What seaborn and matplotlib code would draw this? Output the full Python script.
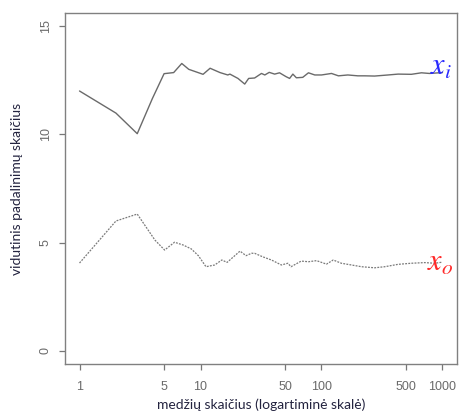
import matplotlib
matplotlib.use("Agg")
import matplotlib.pyplot as plt
import seaborn as sns
import pandas as pd
from matplotlib.ticker import FixedLocator, FixedFormatter, NullLocator

# x_i (solid) series: tree count -> mean number of splits
trees_i = [1, 2, 3, 4, 5, 6, 7, 8, 10.5, 12, 14.5, 16.8, 17.5, 20.4, 23.2, 25, 28,
           31.9, 34, 37, 41, 45, 51, 54.5, 58, 62, 70, 78, 88, 100, 121, 138, 165,
           200, 228, 275, 355, 430, 553, 670, 780, 1000]
vals_i = [12.0, 10.98, 10.03, 11.65, 12.8, 12.85, 13.27, 13.0, 12.77, 13.05, 12.85,
          12.74, 12.78, 12.58, 12.32, 12.58, 12.6, 12.81, 12.74, 12.86, 12.78, 12.84,
          12.66, 12.58, 12.78, 12.61, 12.63, 12.84, 12.74, 12.74, 12.81, 12.7, 12.74,
          12.7, 12.7, 12.69, 12.74, 12.78, 12.77, 12.84, 12.81, 12.85]

# x_o (dotted) series
trees_o = [1, 2, 3, 4.2, 5.05, 6.1, 7.2, 8.4, 9.6, 11.1, 13.1, 15, 16.6, 21.2, 23.8,
           26.4, 28, 32.6, 38.6, 46.6, 52.7, 56, 68, 78, 91, 110, 125, 146, 177, 214,
           275, 333, 430, 553, 715, 860, 1000]
vals_o = [4.06, 6.0, 6.32, 5.12, 4.66, 5.02, 4.89, 4.71, 4.4, 3.89, 3.97, 4.2, 4.09,
          4.61, 4.4, 4.51, 4.51, 4.35, 4.2, 3.97, 4.05, 3.89, 4.15, 4.12, 4.17, 4.01,
          4.2, 4.05, 3.97, 3.89, 3.84, 3.89, 4.0, 4.05, 4.08, 4.05, 4.1]

x_ticks = [1, 5, 10, 50, 100, 500, 1000]
x_ticklabels = ["1", "5", "10", "50", "100", "500", "1000"]
y_ticks = [0, 5, 10, 15]
y_ticklabels = ["0", "5", "10", "15"]

xlabel = "medžių skaičius (logartiminė skalė)"
ylabel = "vidutinis padalinimų skaičius"

sns.set_theme(style="white")
plt.rcParams["font.family"] = ["Liberation Sans", "DejaVu Sans"]
plt.rcParams["mathtext.fontset"] = "stix"

fig = plt.figure(figsize=(4.6, 4.16), dpi=100)
ax = fig.add_axes([65/460, 1-364/416, (457-65)/460, (364-13)/416])

df_i = pd.DataFrame({"n": trees_i, "v": vals_i})
df_o = pd.DataFrame({"n": trees_o, "v": vals_o})

sns.lineplot(data=df_i, x="n", y="v", ax=ax, color="#6a6a6a", linewidth=1.0,
             estimator=None, sort=True)
sns.lineplot(data=df_o, x="n", y="v", ax=ax, color="#7a7a7a", linewidth=0.9,
             estimator=None, sort=True, linestyle=(0, (1.5, 1.0)))

ax.set_xscale("log")
ax.set_xlim(10**-0.12, 10**3.12)
ax.set_ylim(-0.6, 15.6)

ax.xaxis.set_major_locator(FixedLocator(x_ticks))
ax.xaxis.set_major_formatter(FixedFormatter(x_ticklabels))
ax.xaxis.set_minor_locator(NullLocator())
ax.yaxis.set_major_locator(FixedLocator(y_ticks))
ax.yaxis.set_major_formatter(FixedFormatter(y_ticklabels))

ax.tick_params(axis="both", which="major", length=4.5, width=0.9, color="#777777",
               labelcolor="#6a6a6a", labelsize=9, direction="out", bottom=True, left=True)
ax.tick_params(axis="x", pad=8)
ax.tick_params(axis="y", pad=5)
for lab in ax.get_yticklabels():
    lab.set_rotation(90)
    lab.set_va("center")

for sp in ax.spines.values():
    sp.set_color("#808080")
    sp.set_linewidth(1.0)
    sp.set_visible(True)

ax.set_xlabel(xlabel, fontsize=10, color="#23233f", family=["Lato", "DejaVu Sans"],
              labelpad=4)
ax.set_ylabel(ylabel, fontsize=10, color="#23233f", family=["Lato", "DejaVu Sans"],
              labelpad=12)
ax.grid(False)

ax.text((430-65)/392, (364-75)/351, r"$x_{i}$", transform=ax.transAxes, color="#2a2aff",
        fontsize=22, ha="left", va="baseline")
ax.text((427-65)/392, (364-271)/351, r"$x_{o}$", transform=ax.transAxes, color="#ff2a2a",
        fontsize=22, ha="left", va="baseline")

fig.savefig("out.png", dpi=100)
